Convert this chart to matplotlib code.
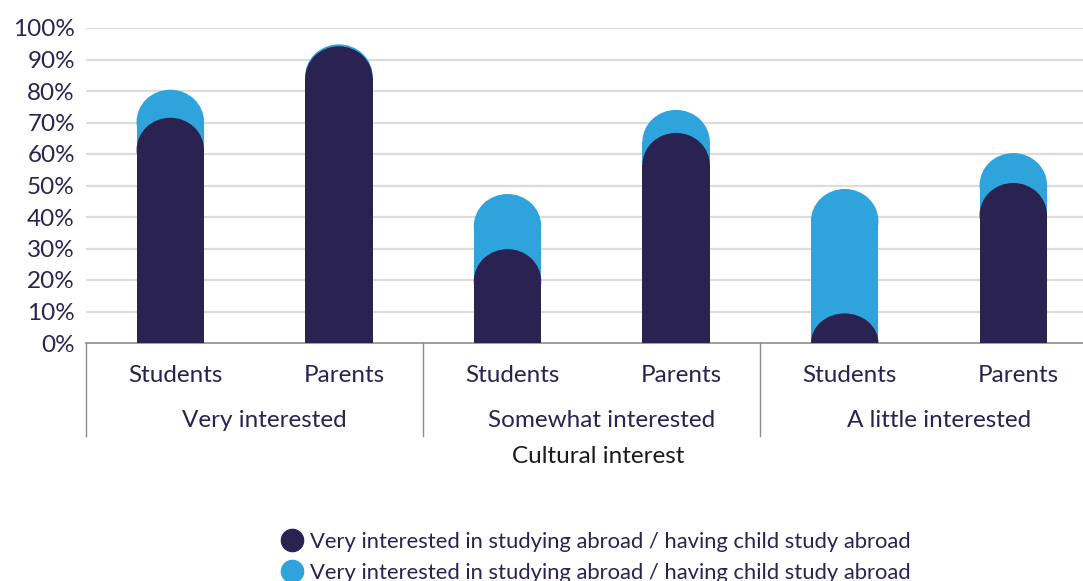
import matplotlib
matplotlib.use("Agg")
import matplotlib.pyplot as plt
import matplotlib.transforms as mtransforms
from matplotlib.patches import Ellipse
from matplotlib.lines import Line2D

groups = ["Very interested", "Somewhat interested", "A little interested"]
members = ["Students", "Parents"]
dark_vals = [71.5, 94.2, 29.8, 66.7, 9.4, 50.8]
light_vals = [80.4, 94.8, 47.3, 74.0, 48.9, 60.3]
legend_labels = [
    "Very interested in studying abroad / having child study abroad",
    "Very interested in studying abroad / having child study abroad",
]
x_title = "Cultural interest"

DARK = "#2a2352"
LIGHT = "#2ea3dc"
TEXT = "#2a2352"
FONT = "Lato"

plt.rcParams["font.family"] = [FONT, "DejaVu Sans"]

W, H, DPI = 1083, 581, 100
fig = plt.figure(figsize=(W / DPI, H / DPI), dpi=DPI)
ax_l, ax_b = 86 / W, 1 - 343 / H
ax_w, ax_h = 1011.6 / W, 315 / H
ax = fig.add_axes([ax_l, ax_b, ax_w, ax_h])

n = len(dark_vals)
ax.set_xlim(-0.5, n - 0.5)
ax.set_ylim(0, 100)

bar_w = 0.4
px_x = ax_w * W / n
px_y = ax_h * H / 100
ry = (bar_w * px_x / 2) / px_y * 0.95


def rounded_bars(vals, color, z):
    for i, v in enumerate(vals):
        cap = min(ry, v)
        body = max(0, v - ry)
        ax.bar(i, body, width=bar_w, color=color, zorder=z, linewidth=0)
        ax.add_patch(Ellipse((i, body), width=bar_w, height=2 * cap,
                             facecolor=color, edgecolor="none", zorder=z))


rounded_bars(light_vals, LIGHT, 2)
rounded_bars(dark_vals, DARK, 3)

ax.set_yticks(range(0, 101, 10))
ax.set_yticklabels([f"{t}%" for t in range(0, 101, 10)], fontsize=17.5, color=TEXT)
ax.tick_params(axis="y", length=0, pad=8)
ax.set_xticks([])
for t in range(10, 101, 10):
    ax.axhline(t, color="#dcdcdc", lw=1.6, zorder=1)

for s in ["top", "right", "left"]:
    ax.spines[s].set_visible(False)
ax.spines["bottom"].set_color("#8c8c8c")
ax.spines["bottom"].set_linewidth(1.2)

trans = mtransforms.blended_transform_factory(ax.transData, ax.transAxes)
for i in range(n):
    ax.text(i + 0.03, -0.102, members[i % 2], transform=trans, ha="center",
            va="center", fontsize=17.5, color=TEXT)
for g, name in enumerate(groups):
    ax.text(2 * g + 0.56, -0.247, name, transform=trans, ha="center",
            va="center", fontsize=17.5, color=TEXT)
    ax.plot([2 * g - 0.5, 2 * g - 0.5], [0, -0.295], transform=trans,
            color="#8c8c8c", lw=1.0, clip_on=False)
ax.text(2.54, -0.36, x_title, transform=trans, ha="center", va="center",
        fontsize=17.5, color="#1a1a1a")

handles = [Line2D([], [], marker="o", ls="", markersize=16, color=c)
           for c in [DARK, LIGHT]]
fig.legend(handles, legend_labels, loc="upper left",
           bbox_to_anchor=(268 / W, 1 - 521 / H), frameon=False,
           fontsize=15.8, labelcolor=TEXT, handletextpad=0.2,
           labelspacing=0.5, handlelength=1.2, borderpad=0)

fig.savefig("out.png", dpi=DPI)
